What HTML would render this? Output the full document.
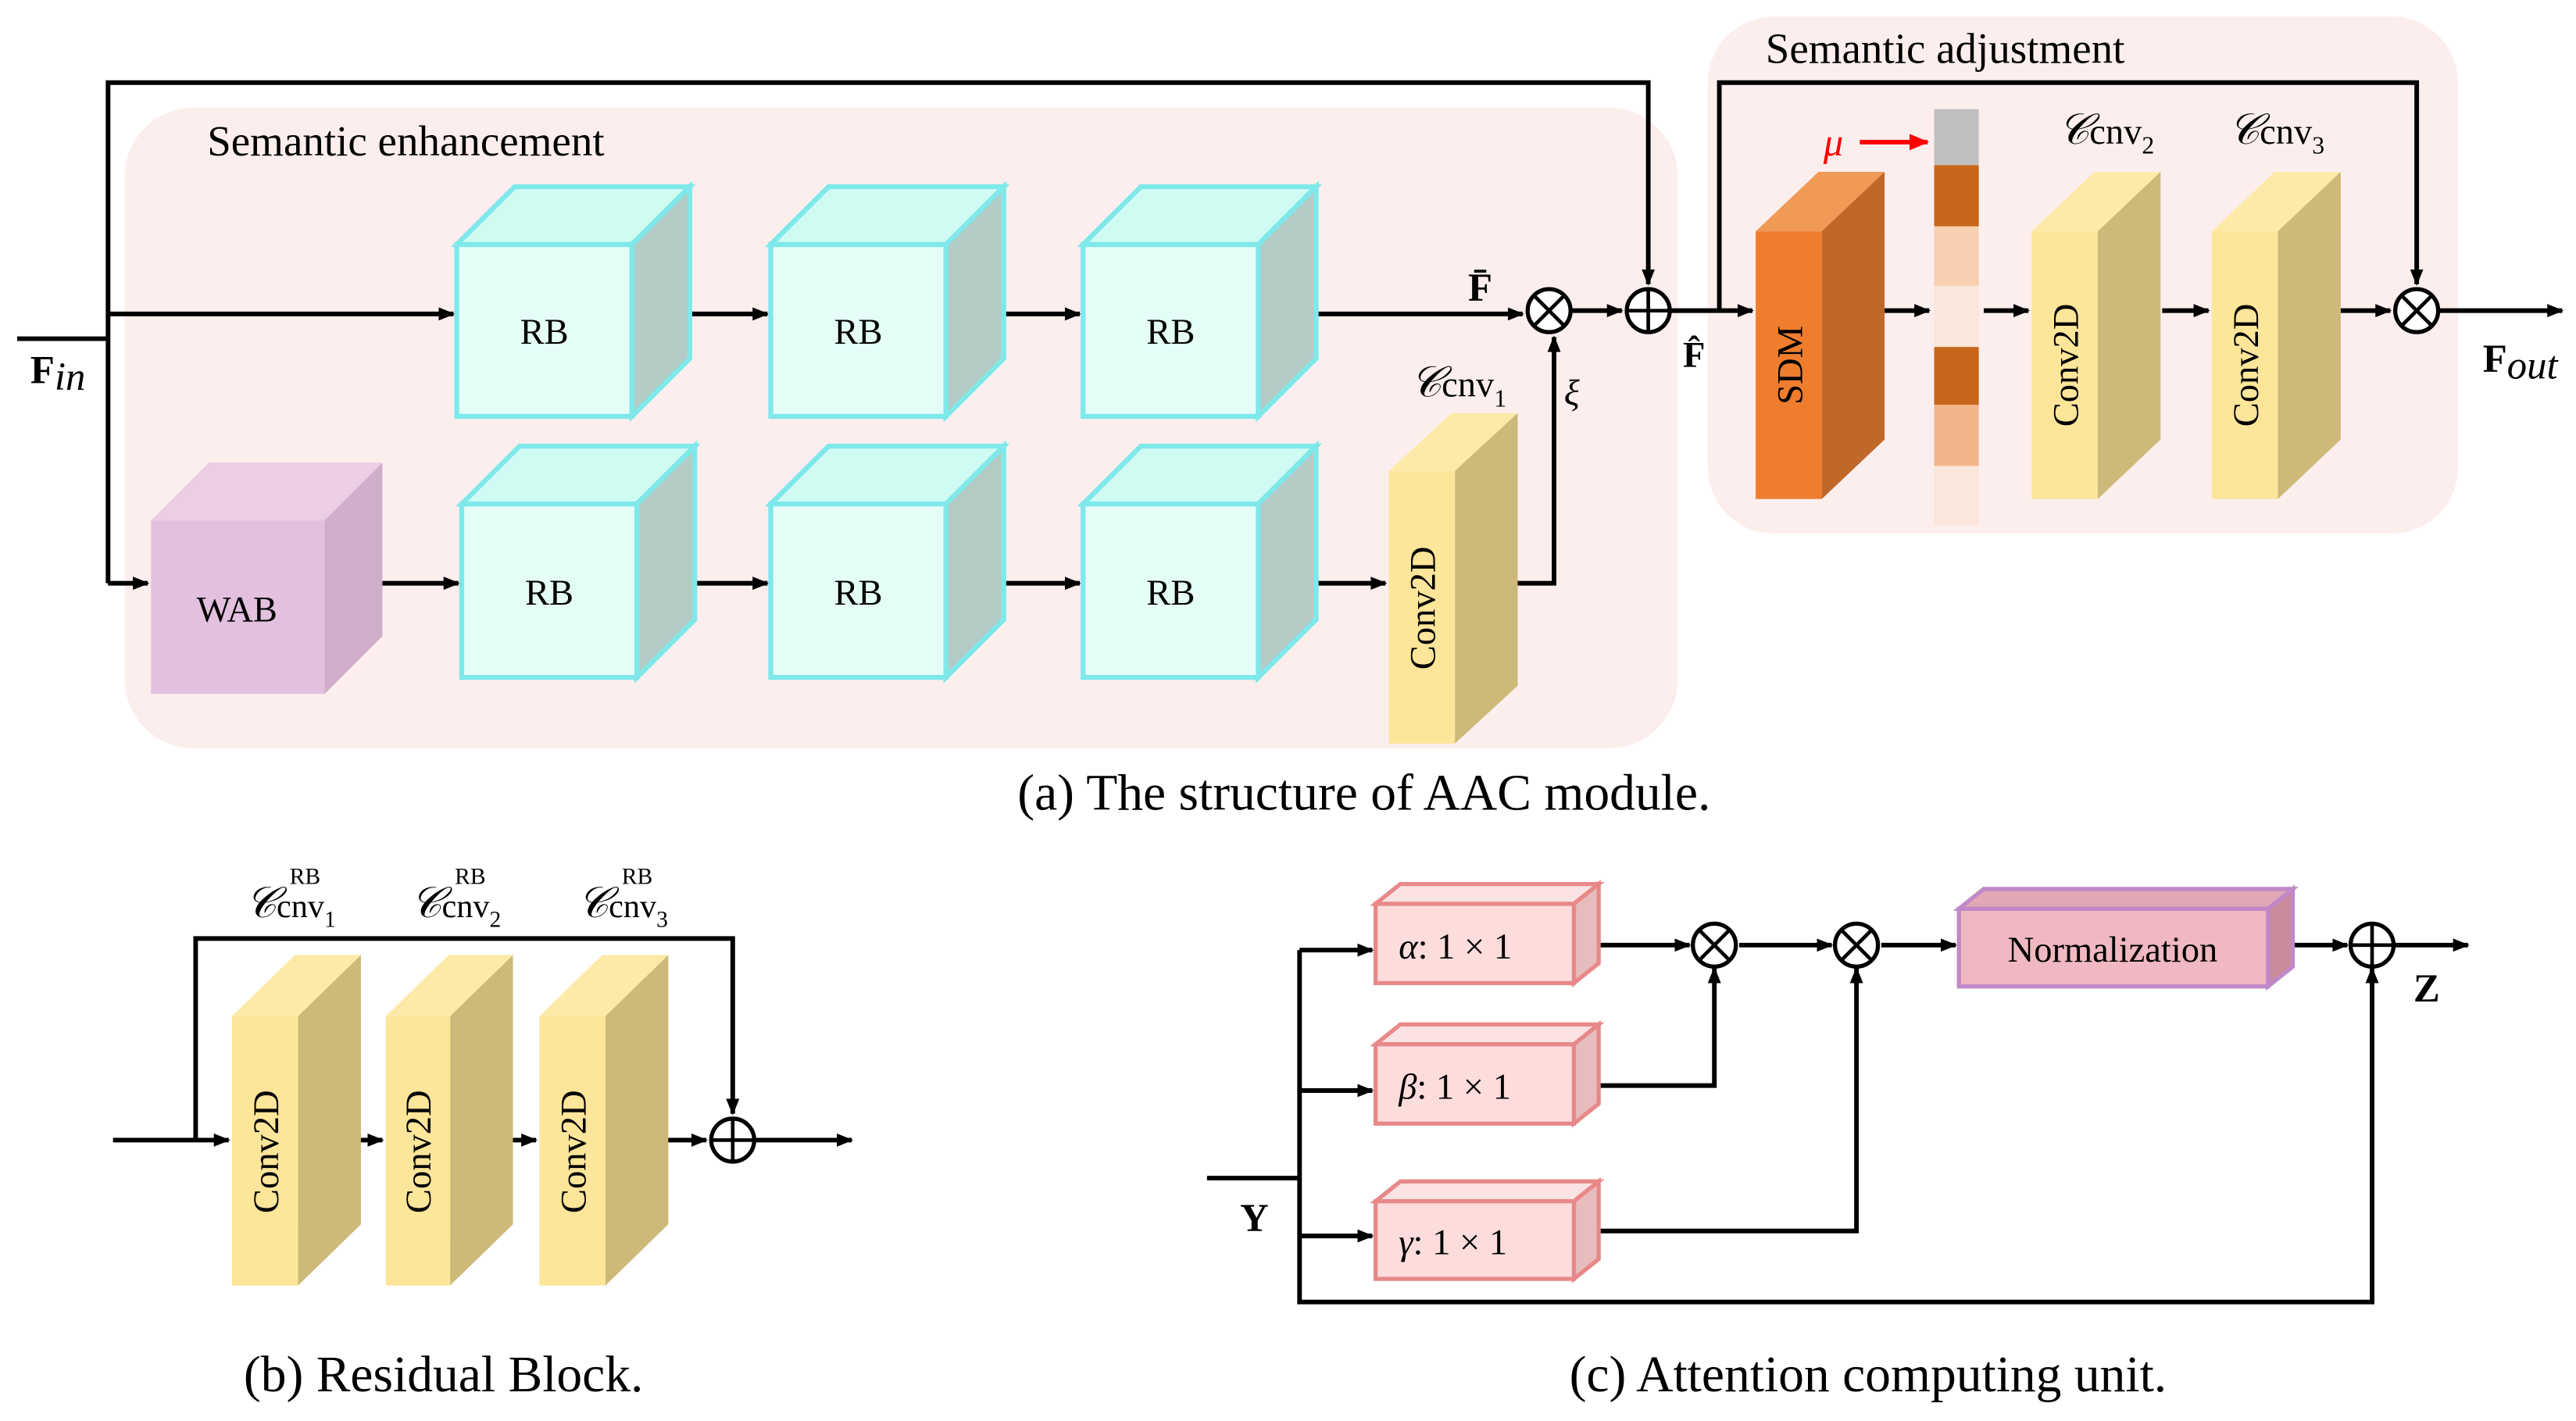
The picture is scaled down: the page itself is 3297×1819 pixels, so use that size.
<!DOCTYPE html>
<html><head><meta charset="utf-8"><style>html,body{margin:0;padding:0;background:#fff}svg{display:block}</style></head>
<body>
<svg width="3297" height="1819" viewBox="0 0 1558 860" xmlns="http://www.w3.org/2000/svg" font-family="Liberation Serif, serif">
<defs>
<marker id="a" markerWidth="10" markerHeight="8" refX="9" refY="4" orient="auto" markerUnits="userSpaceOnUse"><path d="M0,0 L10,4 L0,8 Z" fill="#000"/></marker>
<marker id="r" markerWidth="12" markerHeight="10" refX="11" refY="5" orient="auto" markerUnits="userSpaceOnUse"><path d="M0,0 L12,5 L0,10 Z" fill="#f00"/></marker>
</defs>
<rect x="75" y="65" width="940" height="388" rx="42" fill="#fdeeee"/>
<rect x="1033" y="10" width="454" height="313" rx="40" fill="#fdeeee"/>
<text x="125" y="94" font-size="26">Semantic enhancement</text>
<text x="1068" y="38" font-size="26">Semantic adjustment</text>
<g stroke="#000" stroke-width="2.8" fill="none">
<polyline points="10,205 65,205"/>
<polyline points="65,353 65,50 997,50 997,172" marker-end="url(#a)"/>
<line x1="65" y1="190" x2="274" y2="190" marker-end="url(#a)"/>
<line x1="65" y1="353" x2="89" y2="353" marker-end="url(#a)"/>
<line x1="382" y1="190" x2="464" y2="190" marker-end="url(#a)"/>
<line x1="572" y1="190" x2="653" y2="190" marker-end="url(#a)"/>
<line x1="796" y1="190" x2="921" y2="190" marker-end="url(#a)"/>
<line x1="951" y1="188" x2="981" y2="188" marker-end="url(#a)"/>
<line x1="1011" y1="188" x2="1060" y2="188" marker-end="url(#a)"/>
<line x1="220" y1="353" x2="277" y2="353" marker-end="url(#a)"/>
<line x1="410" y1="353" x2="464" y2="353" marker-end="url(#a)"/>
<line x1="597" y1="353" x2="653" y2="353" marker-end="url(#a)"/>
<line x1="781" y1="353" x2="838" y2="353" marker-end="url(#a)"/>
<polyline points="918,353 940,353 940,204" marker-end="url(#a)"/>
<line x1="1140" y1="188" x2="1167" y2="188" marker-end="url(#a)"/>
<line x1="1200" y1="188" x2="1227" y2="188" marker-end="url(#a)"/>
<line x1="1308" y1="188" x2="1336" y2="188" marker-end="url(#a)"/>
<line x1="1416" y1="188" x2="1446" y2="188" marker-end="url(#a)"/>
<polyline points="1040,188 1040,50 1462,50 1462,172" marker-end="url(#a)"/>
<line x1="1476" y1="188" x2="1550" y2="188" marker-end="url(#a)"/>
</g>
<line x1="1125" y1="86" x2="1166" y2="86" stroke="#f00" stroke-width="2.8" marker-end="url(#r)"/>
<text x="1103" y="94" font-size="24" fill="#f00" font-style="italic">μ</text>
<!-- circles -->
<g stroke="#000" stroke-width="2.5" fill="#fff">
<circle cx="937" cy="188" r="13"/><circle cx="997" cy="188" r="13"/><circle cx="1462" cy="188" r="13"/>
</g>
<g stroke="#000" stroke-width="2.2">
<path d="M928,179 L946,197 M946,179 L928,197"/>
<path d="M984,188 H1010 M997,175 V201"/>
<path d="M1453,179 L1471,197 M1471,179 L1453,197"/>
</g>
<!-- cubes -->
<g stroke="#7ee8ea" stroke-width="3">
<g id="c1"><polygon points="276,148 311,113 417,113 382,148" fill="#d0fbf3"/><polygon points="382,148 417,113 417,217 382,252" fill="#b4cbc6"/><rect x="276" y="148" width="106" height="104" fill="#e4fdf6"/></g>
</g>
<g stroke="#7ee8ea" stroke-width="3">
<polygon points="466,148 501,113 607,113 572,148" fill="#d0fbf3"/><polygon points="572,148 607,113 607,217 572,252" fill="#b4cbc6"/><rect x="466" y="148" width="106" height="104" fill="#e4fdf6"/>
<polygon points="655,148 690,113 796,113 761,148" fill="#d0fbf3"/><polygon points="761,148 796,113 796,217 761,252" fill="#b4cbc6"/><rect x="655" y="148" width="106" height="104" fill="#e4fdf6"/>
<polygon points="279,305 314,270 420,270 385,305" fill="#d0fbf3"/><polygon points="385,305 420,270 420,375 385,410" fill="#b4cbc6"/><rect x="279" y="305" width="106" height="105" fill="#e4fdf6"/>
<polygon points="466,305 501,270 607,270 572,305" fill="#d0fbf3"/><polygon points="572,305 607,270 607,375 572,410" fill="#b4cbc6"/><rect x="466" y="305" width="106" height="105" fill="#e4fdf6"/>
<polygon points="655,305 690,270 796,270 761,305" fill="#d0fbf3"/><polygon points="761,305 796,270 796,375 761,410" fill="#b4cbc6"/><rect x="655" y="305" width="106" height="105" fill="#e4fdf6"/>
</g>
<polygon points="91,315 126,280 231,280 196,315" fill="#ebcde6"/><polygon points="196,315 231,280 231,385 196,420" fill="#d0adc9"/><rect x="91" y="315" width="105" height="105" fill="#e2c0de"/>
<g font-size="22" text-anchor="middle">
<text x="329" y="208">RB</text><text x="519" y="208">RB</text><text x="708" y="208">RB</text>
<text x="332" y="366">RB</text><text x="519" y="366">RB</text><text x="708" y="366">RB</text>
<text x="143" y="376">WAB</text>
</g>
<!-- conv2d blocks -->
<g>
<polygon points="840,285 878,250 918,250 880,285" fill="#fdeaa8"/><polygon points="880,285 918,250 918,415 880,450" fill="#cdb978"/><rect x="840" y="285" width="40" height="165" fill="#fde59a"/>
<polygon points="1229,140 1267,104 1307,104 1269,140" fill="#fdeaa8"/><polygon points="1269,140 1307,104 1307,266 1269,302" fill="#cdb978"/><rect x="1229" y="140" width="40" height="162" fill="#fde59a"/>
<polygon points="1338,140 1376,104 1416,104 1378,140" fill="#fdeaa8"/><polygon points="1378,140 1416,104 1416,266 1378,302" fill="#cdb978"/><rect x="1338" y="140" width="40" height="162" fill="#fde59a"/>
<polygon points="1062,140 1100,104 1140,104 1102,140" fill="#f09a58"/><polygon points="1102,140 1140,104 1140,266 1102,302" fill="#c0672a"/><rect x="1062" y="140" width="40" height="162" fill="#ef7d2e"/>
</g>
<g font-size="22" text-anchor="middle">
<text transform="translate(868,368) rotate(-90)">Conv2D</text>
<text transform="translate(1257,221) rotate(-90)">Conv2D</text>
<text transform="translate(1366,221) rotate(-90)">Conv2D</text>
<text transform="translate(1090,221) rotate(-90)">SDM</text>
</g>
<!-- strip -->
<rect x="1170" y="66" width="27" height="34" fill="#c0c0c0"/>
<rect x="1170" y="100" width="27" height="37" fill="#c8651a"/>
<rect x="1170" y="137" width="27" height="36" fill="#f8cfb1"/>
<rect x="1170" y="173" width="27" height="37" fill="#fae6da"/>
<rect x="1170" y="210" width="27" height="35" fill="#c8651a"/>
<rect x="1170" y="245" width="27" height="37" fill="#f2b48a"/>
<rect x="1170" y="282" width="27" height="36" fill="#fae6da"/>
<!-- labels -->
<text x="18" y="232" font-size="24" font-weight="bold">F<tspan font-style="italic" font-weight="normal" dy="4">in</tspan></text>
<text x="888" y="182" font-size="24" font-weight="bold">F̄</text>
<text x="1018" y="222" font-size="22" font-weight="bold">F̂</text>
<text x="946" y="245" font-size="22" font-style="italic">ξ</text>
<text x="1502" y="225" font-size="24" font-weight="bold">F<tspan font-style="italic" font-weight="normal" dy="4">out</tspan></text>
<text x="853" y="240" font-size="26" font-style="italic">𝒞<tspan font-style="normal" font-size="22">cnv</tspan><tspan font-size="15" font-style="normal" dy="6">1</tspan></text>
<text x="1245" y="87" font-size="26" font-style="italic">𝒞<tspan font-style="normal" font-size="22">cnv</tspan><tspan font-size="15" font-style="normal" dy="6">2</tspan></text>
<text x="1348" y="87" font-size="26" font-style="italic">𝒞<tspan font-style="normal" font-size="22">cnv</tspan><tspan font-size="15" font-style="normal" dy="6">3</tspan></text>
<text x="825" y="490" font-size="31" text-anchor="middle">(a) The structure of AAC module.</text>
<!-- (b) -->
<g stroke="#000" stroke-width="2.8" fill="none">
<line x1="68" y1="690" x2="138" y2="690" marker-end="url(#a)"/>
<polyline points="118,690 118,568 443,568 443,674" marker-end="url(#a)"/>
<line x1="203" y1="690" x2="231" y2="690" marker-end="url(#a)"/>
<line x1="296" y1="690" x2="324" y2="690" marker-end="url(#a)"/>
<line x1="395" y1="690" x2="427" y2="690" marker-end="url(#a)"/>
<line x1="457" y1="690" x2="515" y2="690" marker-end="url(#a)"/>
</g>
<polygon points="140,615 178,578 218,578 180,615" fill="#fdeaa8"/><polygon points="180,615 218,578 218,741 180,778" fill="#cdb978"/><rect x="140" y="615" width="40" height="163" fill="#fde59a"/>
<polygon points="233,615 271,578 310,578 272,615" fill="#fdeaa8"/><polygon points="272,615 310,578 310,741 272,778" fill="#cdb978"/><rect x="233" y="615" width="39" height="163" fill="#fde59a"/>
<polygon points="326,615 364,578 404,578 366,615" fill="#fdeaa8"/><polygon points="366,615 404,578 404,741 366,778" fill="#cdb978"/><rect x="326" y="615" width="40" height="163" fill="#fde59a"/>
<g font-size="22" text-anchor="middle">
<text transform="translate(168,697) rotate(-90)">Conv2D</text>
<text transform="translate(260,697) rotate(-90)">Conv2D</text>
<text transform="translate(354,697) rotate(-90)">Conv2D</text>
</g>
<circle cx="443" cy="690" r="13" fill="#fff" stroke="#000" stroke-width="2.5"/>
<path d="M430,690 H456 M443,677 V703" stroke="#000" stroke-width="2.2"/>
<g font-size="26" font-style="italic">
<text x="148" y="555">𝒞<tspan font-style="normal" font-size="20">cnv</tspan><tspan font-size="14" font-style="normal" dy="6">1</tspan><tspan font-style="normal" font-size="14" dx="-28" dy="-26">RB</tspan></text>
<text x="248" y="555">𝒞<tspan font-style="normal" font-size="20">cnv</tspan><tspan font-size="14" font-style="normal" dy="6">2</tspan><tspan font-style="normal" font-size="14" dx="-28" dy="-26">RB</tspan></text>
<text x="349" y="555">𝒞<tspan font-style="normal" font-size="20">cnv</tspan><tspan font-size="14" font-style="normal" dy="6">3</tspan><tspan font-style="normal" font-size="14" dx="-28" dy="-26">RB</tspan></text>
</g>
<text x="268" y="842" font-size="31" text-anchor="middle">(b) Residual Block.</text>
<!-- (c) -->
<g stroke="#000" stroke-width="2.8" fill="none">
<line x1="730" y1="713" x2="786" y2="713"/>
<polyline points="786,575 786,788 1435,788 1435,586" marker-end="url(#a)"/>
<line x1="786" y1="575" x2="830" y2="575" marker-end="url(#a)"/>
<line x1="786" y1="660" x2="830" y2="660" marker-end="url(#a)"/>
<line x1="786" y1="748" x2="830" y2="748" marker-end="url(#a)"/>
<line x1="967" y1="572" x2="1022" y2="572" marker-end="url(#a)"/>
<polyline points="967,657 1037,657 1037,586" marker-end="url(#a)"/>
<line x1="1052" y1="572" x2="1108" y2="572" marker-end="url(#a)"/>
<polyline points="967,745 1123,745 1123,586" marker-end="url(#a)"/>
<line x1="1138" y1="572" x2="1183" y2="572" marker-end="url(#a)"/>
<line x1="1387" y1="572" x2="1420" y2="572" marker-end="url(#a)"/>
<line x1="1449" y1="572" x2="1493" y2="572" marker-end="url(#a)"/>
</g>
<g stroke="#e88888" stroke-width="2.5">
<polygon points="832,547 847,535 967,535 952,547" fill="#fbe3e3"/><polygon points="952,547 967,535 967,583 952,595" fill="#e7bcbc"/><rect x="832" y="547" width="120" height="48" fill="#fddcdc"/>
<polygon points="832,632 847,620 967,620 952,632" fill="#fbe3e3"/><polygon points="952,632 967,620 967,668 952,680" fill="#e7bcbc"/><rect x="832" y="632" width="120" height="48" fill="#fddcdc"/>
<polygon points="832,727 847,715 967,715 952,727" fill="#fbe3e3"/><polygon points="952,727 967,715 967,762 952,774" fill="#e7bcbc"/><rect x="832" y="727" width="120" height="47" fill="#fddcdc"/>
</g>
<g stroke="#c088c8" stroke-width="2.5">
<polygon points="1185,550 1200,538 1387,538 1372,550" fill="#e0a8b4"/><polygon points="1372,550 1387,538 1387,585 1372,597" fill="#c88c9a"/><rect x="1185" y="550" width="187" height="47" fill="#f0b8c0"/>
</g>
<g font-size="22">
<text x="846" y="580"><tspan font-style="italic">α</tspan>: 1 × 1</text>
<text x="846" y="665"><tspan font-style="italic">β</tspan>: 1 × 1</text>
<text x="846" y="759"><tspan font-style="italic">γ</tspan>: 1 × 1</text>
<text x="1278" y="582" text-anchor="middle">Normalization</text>
</g>
<g stroke="#000" stroke-width="2.5" fill="#fff"><circle cx="1037" cy="572" r="13"/><circle cx="1123" cy="572" r="13"/><circle cx="1435" cy="572" r="13"/></g>
<g stroke="#000" stroke-width="2.2">
<path d="M1028,563 L1046,581 M1046,563 L1028,581"/>
<path d="M1114,563 L1132,581 M1132,563 L1114,581"/>
<path d="M1422,572 H1448 M1435,559 V585"/>
</g>
<text x="750" y="745" font-size="24" font-weight="bold">Y</text>
<text x="1460" y="606" font-size="24" font-weight="bold">Z</text>
<text x="1130" y="842" font-size="31" text-anchor="middle">(c) Attention computing unit.</text>
</svg>
</body></html>
